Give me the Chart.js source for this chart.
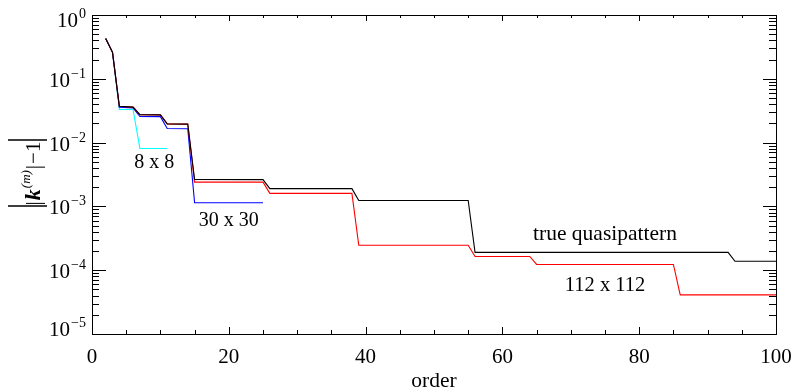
<!DOCTYPE html>
<html>
<head>
<meta charset="utf-8">
<script src="https://cdn.jsdelivr.net/npm/chart.js@4.4.1/dist/chart.umd.min.js"></script>
<style>
  body { margin: 0; background: #fff; }
  canvas { display: block; }
</style>
</head>
<body>
<canvas id="orderChart" width="794" height="391"></canvas>
<script>
// corner points of each step curve (order, |k(m)| - 1)
const trueOrders = [2, 3, 4, 6, 7, 10, 11, 14, 15, 25, 26, 38, 39, 55, 56, 93, 94, 100];
const trueValues = [0.43, 0.26, 0.037, 0.036, 0.0274, 0.0272, 0.0196, 0.0195, 0.00264, 0.00263, 0.0019, 0.0019, 0.00124, 0.00124, 0.00019, 0.00019, 0.000138, 0.000138];

const n112Orders = [2, 3, 4, 6, 7, 10, 11, 14, 15, 25, 26, 38, 39, 55, 56, 64, 65, 85, 86, 100];
const n112Values = [0.43, 0.26, 0.037, 0.036, 0.0274, 0.0272, 0.0196, 0.0195, 0.0024, 0.0024, 0.0016, 0.0016, 0.000246, 0.000246, 0.000164, 0.000164, 0.000123, 0.000123, 0.000041, 0.000041];

const n30Orders = [2, 3, 4, 6, 7, 10, 11, 14, 15, 25];
const n30Values = [0.43, 0.26, 0.036, 0.035, 0.0256, 0.0255, 0.0166, 0.0165, 0.00114, 0.00114];

const n8Orders = [2, 3, 4, 6, 7, 11];
const n8Values = [0.43, 0.26, 0.033, 0.033, 0.0081, 0.0081];

const xTickValues = [0, 20, 40, 60, 80, 100];
const yDecades = [-5, -4, -3, -2, -1, 0];

// curve labels: [text, order, value, font size]
const curveLabels = [
  ['8 x 8', 9.1, 0.0040, 20],
  ['30 x 30', 20, 0.00050, 20],
  ['true quasipattern', 75, 0.000297, 21.5],
  ['112 x 112', 75, 0.000048, 20.5]
];

const FONT = '"Liberation Serif", "Times New Roman", serif';

function pts(xs, ys) {
  return xs.map((x, i) => ({ x: x, y: ys[i] }));
}

const idlAxes = {
  id: 'idlAxes',
  afterDraw(chart) {
    const ctx = chart.ctx;
    const a = chart.chartArea;
    const xs = chart.scales.x;
    const ys = chart.scales.y;
    ctx.save();
    ctx.strokeStyle = '#000';
    ctx.fillStyle = '#000';
    ctx.lineWidth = 1;

    // frame
    ctx.strokeRect(Math.round(a.left) + 0.5, Math.round(a.top) + 0.5,
      Math.round(a.right - a.left), Math.round(a.bottom - a.top));

    ctx.beginPath();
    // x ticks, bottom and top, inward
    for (let v = xs.min; v <= xs.max; v += 5) {
      const px = Math.round(xs.getPixelForValue(v)) + 0.5;
      const major = v % 20 === 0;
      const lb = major ? 7 : 4;
      const lt = major ? 6 : 3;
      ctx.moveTo(px, a.bottom); ctx.lineTo(px, a.bottom - lb);
      ctx.moveTo(px, a.top); ctx.lineTo(px, a.top + lt);
    }
    // y ticks, left and right, inward
    yDecades.forEach(d => {
      for (let m = 1; m <= 9; m++) {
        if (d === 0 && m > 1) break;
        const py = Math.round(ys.getPixelForValue(m * Math.pow(10, d))) + 0.5;
        const len = m === 1 ? 14 : 7;
        ctx.moveTo(a.left, py); ctx.lineTo(a.left + len, py);
        ctx.moveTo(a.right, py); ctx.lineTo(a.right - (m === 1 ? 13 : 7), py);
      }
    });
    ctx.stroke();

    // x tick labels
    ctx.font = '21px ' + FONT;
    ctx.textAlign = 'center';
    ctx.textBaseline = 'alphabetic';
    xTickValues.forEach(v => {
      ctx.fillText(String(v), xs.getPixelForValue(v), a.bottom + 28.5);
    });
    ctx.font = '21.5px ' + FONT;
    ctx.fillText('order', (a.left + a.right) / 2, a.bottom + 53);

    // y tick labels 10^d
    yDecades.forEach(d => {
      const py = ys.getPixelForValue(Math.pow(10, d));
      let base = py + 8;
      base = Math.max(base, a.top + 12);
      base = Math.min(base, a.bottom + 1.5);
      const exp = d === 0 ? '0' : '\u2212' + (-d);
      ctx.font = '14px ' + FONT;
      const ew = ctx.measureText(exp).width;
      ctx.textAlign = 'left';
      ctx.fillText(exp, 86 - ew, base - 9);
      ctx.font = '21px ' + FONT;
      ctx.textAlign = 'right';
      ctx.fillText('10', 86 - ew - 1, base);
    });

    // curve labels
    ctx.textAlign = 'center';
    curveLabels.forEach(([t, ox, oy, fs]) => {
      ctx.font = fs + 'px ' + FONT;
      ctx.fillText(t, xs.getPixelForValue(ox), ys.getPixelForValue(oy));
    });

    // y title  | |k^(m)|-1 |
    ctx.save();
    ctx.translate(40, 172);
    ctx.rotate(-Math.PI / 2);
    const parts = [
      ['|', '21px ' + FONT, 0],
      ['k', 'italic bold 22px ' + FONT, 0],
      ['(m)', 'italic 13px ' + FONT, -10],
      ['|', '21px ' + FONT, 0],
      ['\u22121', '21px ' + FONT, 0]
    ];
    let total = 0;
    parts.forEach(p => { ctx.font = p[1]; total += ctx.measureText(p[0]).width + 1; });
    let cx = -1 - total / 2;
    ctx.textAlign = 'left';
    parts.forEach(p => {
      ctx.font = p[1];
      ctx.fillText(p[0], cx, p[2]);
      cx += ctx.measureText(p[0]).width + 1;
    });
    ctx.beginPath();
    ctx.moveTo(-34, -32); ctx.lineTo(-34, 7);
    ctx.moveTo(32, -32); ctx.lineTo(32, 7);
    ctx.lineWidth = 1.3;
    ctx.stroke();
    ctx.restore();

    ctx.restore();
  }
};

new Chart(document.getElementById('orderChart'), {
  type: 'line',
  data: {
    datasets: [
      { label: 'true quasipattern', data: pts(trueOrders, trueValues), borderColor: '#000000' },
      { label: '112 x 112', data: pts(n112Orders, n112Values), borderColor: '#ff0000' },
      { label: '30 x 30', data: pts(n30Orders, n30Values), borderColor: '#0000ff' },
      { label: '8 x 8', data: pts(n8Orders, n8Values), borderColor: '#00ffff' }
    ]
  },
  options: {
    responsive: false,
    devicePixelRatio: 1,
    animation: false,
    layout: { padding: { left: 92, right: 18, top: 15, bottom: 57 } },
    elements: {
      line: { borderWidth: 1.1, tension: 0, fill: false },
      point: { radius: 0, hoverRadius: 0 }
    },
    plugins: { legend: { display: false }, tooltip: { enabled: false } },
    scales: {
      x: { type: 'linear', min: 0, max: 100, display: false },
      y: { type: 'logarithmic', min: 1e-5, max: 1, display: false }
    }
  },
  plugins: [idlAxes]
});
</script>
</body>
</html>
